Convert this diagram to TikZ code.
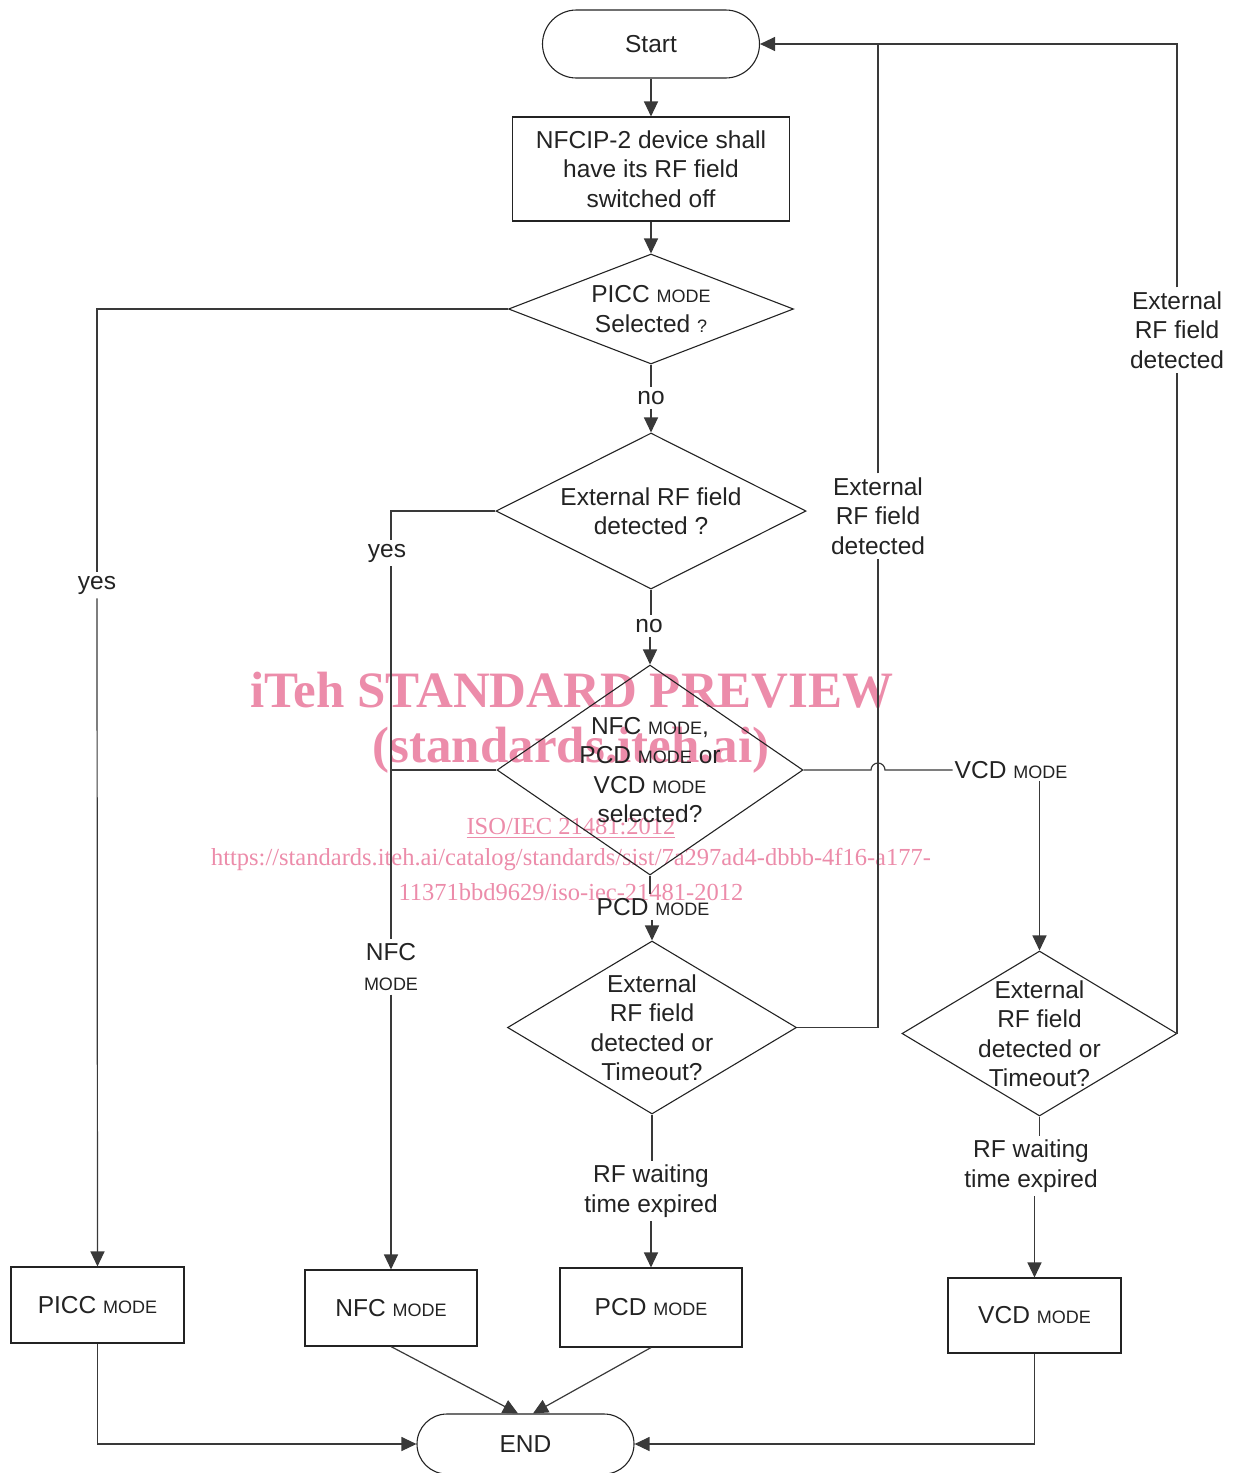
\documentclass[tikz,border=0pt]{standalone}
\usepackage{fontspec}
\setmainfont{Liberation Sans}
\newfontfamily\wmfont{Liberation Serif}
\usetikzlibrary{arrows.meta,shapes.geometric,calc}
\newcommand\mfs{\fontsize{24.5}{29.5}\selectfont}
\newcommand\mymode{{\fontsize{18}{20}\selectfont MODE}}
\newcommand\smq{{\fontsize{18}{20}\selectfont ?}}
\definecolor{wmpink}{RGB}{236,140,170}
\definecolor{ink}{RGB}{35,35,35}
\begin{document}
\begin{tikzpicture}[x=1pt,y=-1pt,
  ln/.style={draw=ink!90, line width=1.2pt},
  arr/.style={-{Triangle[length=15pt,width=14pt]}},
  txt/.style={font=\mfs, text=ink, align=center},
  term/.style={txt, draw=ink, line width=1.1pt, rounded corners=#1, inner sep=0pt},
  box/.style={txt, draw=ink, line width=1.1pt, inner sep=0pt},
  dia/.style={diamond, draw=ink, line width=1.1pt, inner sep=0pt},
  lbl/.style={txt, inner sep=4pt},
  wm/.style={text=wmpink, align=center, inner sep=0pt}]
\useasboundingbox (0,0) rectangle (1240,1473);

% watermark
\node[wm, font={\wmfont\bfseries\fontsize{51}{55}\selectfont}] (wm1) at (572,690) {iTeh STANDARD PREVIEW};
\node[wm, font={\wmfont\bfseries\fontsize{51}{55}\selectfont}] (wm2) at (571,750) {(standards.iteh.ai)};
\node[wm, font={\wmfont\fontsize{24.5}{28}\selectfont}] (wm3) at (571,828) {\underline{ISO/IEC 21481:2012}};
\node[wm, font={\wmfont\fontsize{24.5}{28}\selectfont}] (wm4) at (571,860) {https://standards.iteh.ai/catalog/standards/sist/7a297ad4-dbbb-4f16-a177-};
\node[wm, font={\wmfont\fontsize{24.5}{28}\selectfont}] (wm5) at (571,892) {11371bbd9629/iso-iec-21481-2012};

% main nodes
\node[term=34pt, minimum width=217, minimum height=68] (start) at (651,44) {Start};
\node[box, minimum width=277, minimum height=104] (b1) at (651,169) {NFCIP-2 device shall\\have its RF field\\switched off};
\node[dia, minimum width=285, minimum height=110,
  label={[txt]center:{PICC \mymode\\Selected \smq}}] (d1) at (651,309) {};
\node[dia, minimum width=310, minimum height=156,
  label={[txt]center:{External RF field\\detected ?}}] (d2) at (651,511) {};
\node[dia, minimum width=306, minimum height=210,
  label={[txt]center:{NFC \mymode,\\PCD \mymode{} or\\VCD \mymode\\selected?}}] (d3) at (650,770) {};
\node[dia, minimum width=289, minimum height=173,
  label={[txt]center:{External\\RF field\\detected or\\Timeout?}}] (d4) at (652,1027.5) {};
\node[dia, minimum width=275, minimum height=165,
  label={[txt]center:{External\\RF field\\detected or\\Timeout?}}] (d5) at (1039.5,1033.5) {};

\node[box, minimum width=173, minimum height=76] (picc) at (97.5,1305) {PICC \mymode};
\node[box, minimum width=172, minimum height=76] (nfc) at (391,1308) {NFC \mymode};
\node[box, minimum width=182, minimum height=79] (pcd) at (651,1307.5) {PCD \mymode};
\node[box, minimum width=173, minimum height=75] (vcd) at (1034.5,1315.5) {VCD \mymode};
\node[term=30pt, minimum width=217, minimum height=60] (end) at (525.5,1444) {END};

% line labels
\node[lbl] (yes1) at (97,585) {yes};
\node[lbl] (no1) at (651,398) {no};
\node[lbl] (yes2) at (387,553) {yes};
\node[lbl] (no2) at (649,626) {no};
\node[lbl] (nfcl) at (391,967) {NFC\\\mymode};
\node[lbl] (pcdl) at (653,907) {PCD \mymode};
\node[lbl, inner sep=2pt] (vcdl) at (1011,770) {VCD \mymode};
\node[lbl] (ext1) at (878,516) {External\\RF field\\detected};
\node[lbl] (ext2) at (1177,330) {External\\RF field\\detected};
\node[lbl] (rf1) at (651,1191) {RF waiting\\time expired};
\node[lbl] (rf2) at (1031,1166) {RF waiting\\time expired};

% connectors
\draw[ln,arr] (start.south) -- (b1.north);
\draw[ln,arr] (b1.south) -- (d1.north);
\draw[ln] (d1.south) -- (no1.north);
\draw[ln,arr] (no1.south) -- (d2.north);
\draw[ln] (d1.west) -| (yes1.north);
\draw[ln,arr] (yes1.south) -- (picc.north);
\draw[ln] (d2.west) -| (nfc.north |- yes2.north);
\draw[ln] (nfc.north |- yes2.south) -- (nfc.north |- nfcl.north);
\draw[ln,arr] (nfc.north |- nfcl.south) -- (nfc.north);
\draw[ln] (d3.west) -- (d3.west -| nfc.north);
\draw[ln] (d2.south) -- (d2.south |- no2.north);
\draw[ln,arr] (no2.south -| d3.north) -- (d3.north);
\draw[ln] (d3.south) -- (d3.south |- pcdl.north);
\draw[ln,arr] (pcdl.south -| d4.north) -- (d4.north);
\draw[ln] (d4.east) -| (ext1.south);
\draw[ln] (ext1.north) -- (ext1.north |- start.east);
\draw[ln] (d5.east) -| (ext2.south);
\draw[ln,arr] (ext2.north) |- (start.east);
\coordinate (hop) at ($(d3.east -| ext1.north)+(-7,0)$);
\draw[ln] (d3.east) -- (hop) arc[start angle=180, end angle=360, radius=7] -- (vcdl.west);
\draw[ln,arr] (vcdl.south -| d5.north) -- (d5.north);
\draw[ln] (d4.south) -- (d4.south |- rf1.north);
\draw[ln,arr] (rf1.south -| pcd.north) -- (pcd.north);
\draw[ln] (d5.south) -- (d5.south |- rf2.north);
\draw[ln,arr] (rf2.south -| vcd.north) -- (vcd.north);
\draw[ln,arr] (picc.south) |- (end.west);
\draw[ln,arr] (vcd.south) |- (end.east);
\coordinate (e1) at ($(end.north)+(-7.5,0)$);
\coordinate (e2) at ($(end.north)+(7.5,0)$);
\draw[ln,arr] (nfc.south) -- (e1);
\draw[ln,arr] (pcd.south) -- (e2);
\end{tikzpicture}
\end{document}
